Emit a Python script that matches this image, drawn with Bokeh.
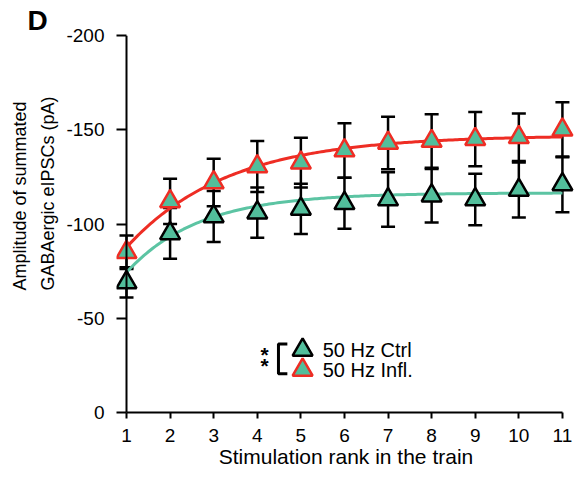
import numpy as np
from bokeh.plotting import figure
from bokeh.models import (Range1d, ColumnDataSource, Whisker, TeeHead, Label, FixedTicker,
                          Title, Span)
from bokeh.embed import file_html
from bokeh.resources import INLINE

# ---- data ----
rank = [1, 2, 3, 4, 5, 6, 7, 8, 9, 10, 11]
ctrl_mean = [-69, -95, -104, -106, -108, -111, -113, -115, -113, -118, -121]
ctrl_sem = [8, 13.5, 13.5, 13.3, 13.3, 13.5, 14.4, 14.2, 13.7, 14.6, 14.8]
infl_mean = [-85, -112, -122, -130.5, -132.5, -139, -143, -144, -145, -146, -150]
infl_sem = [8.9, 12, 12.6, 13.5, 13.2, 14.4, 13.9, 14.2, 14.4, 12.6, 14.6]
# mono-exponential fit parameters (value at rank 1, plateau, rate)
ctrl_fit = dict(y0=-74.3, plateau=-116.5, k=0.6)
infl_fit = dict(y0=-87.6, plateau=-147.0, k=0.43)
y_ticks = [0, -50, -100, -150, -200]
y_tick_labels = ["0", "-50", "-100", "-150", "-200"]
x_ticks = rank
legend_labels = ["50 Hz Ctrl", "50 Hz Infl."]

FONT = "Liberation Sans"
TEAL = "#52BE9B"
TEAL_LINE = "#5CC4A3"
RED = "#EE2D24"

W, H = 580, 478
p = figure(width=W, height=H, output_backend="svg", toolbar_location=None,
           x_range=Range1d(0.7706, 11.3), y_range=Range1d(0, -200),
           min_border_left=116, min_border_right=5, min_border_top=35, min_border_bottom=66)
p.outline_line_color = None
p.xgrid.visible = False
p.ygrid.visible = False
p.background_fill_color = "white"

for ax in (p.xaxis[0], p.yaxis[0]):
    ax.axis_line_width = 2
    ax.major_tick_line_width = 2
    ax.minor_tick_line_color = None
    ax.major_label_text_font = FONT
    ax.major_label_text_font_size = "19px"
    ax.major_label_text_color = "black"
    ax.axis_line_color = "black"
    ax.major_tick_line_color = "black"

p.xaxis.ticker = FixedTicker(ticks=x_ticks)
p.yaxis.ticker = FixedTicker(ticks=y_ticks)
p.yaxis.major_label_overrides = {t: s for t, s in zip(y_ticks, y_tick_labels)}
p.xaxis.bounds = (x_ticks[0], x_ticks[-1])
p.xaxis.major_tick_in = 0
p.xaxis.major_tick_out = 6
p.xaxis.major_label_standoff = 10
# y axis: ticks run from the frame edge to the axis line drawn at rank 1
p.yaxis.axis_line_color = None
p.yaxis.major_tick_out = 0
p.yaxis.major_tick_in = 10
p.yaxis.major_label_standoff = 12
p.add_layout(Span(location=x_ticks[0], dimension="height", line_color="black", line_width=2))

# error bars
for mean, sem in ((ctrl_mean, ctrl_sem), (infl_mean, infl_sem)):
    m = np.array(mean, dtype=float)
    s = np.array(sem, dtype=float)
    src = ColumnDataSource(dict(x=rank, upper=m - s, lower=m + s))
    w = Whisker(base="x", upper="upper", lower="lower", source=src,
                line_width=2.5, line_color="black",
                upper_head=TeeHead(size=14, line_width=2.5, line_color="black"),
                lower_head=TeeHead(size=14, line_width=2.5, line_color="black"))
    p.add_layout(w)

# fitted curves
xs = np.linspace(rank[0], rank[-1], 200)
for fit, col in ((ctrl_fit, TEAL_LINE), (infl_fit, RED)):
    ys = fit["plateau"] + (fit["y0"] - fit["plateau"]) * np.exp(-fit["k"] * (xs - rank[0]))
    p.line(xs, ys, line_color=col, line_width=3)

# markers
p.scatter(rank, ctrl_mean, marker="triangle", size=20, fill_color=TEAL,
          line_color="black", line_width=2.5)
p.scatter(rank, infl_mean, marker="triangle", size=20, fill_color=TEAL,
          line_color=RED, line_width=2.5)

# legend (manual)
leg_x = 5.04
leg_y = [-33.2, -22.6]
p.scatter([leg_x], [leg_y[0]], marker="triangle", size=20, fill_color=TEAL,
          line_color="black", line_width=2.5)
p.scatter([leg_x], [leg_y[1]], marker="triangle", size=20, fill_color=TEAL,
          line_color=RED, line_width=2.5)
for yy, txt in zip(leg_y, legend_labels):
    p.add_layout(Label(x=5.5, y=yy, text=txt, text_font=FONT, text_font_size="20px",
                       text_baseline="middle", text_align="left", text_color="black"))
# bracket
p.line([4.69, 4.486, 4.486, 4.69], [-36.4, -36.4, -20.5, -20.5], line_color="black",
       line_width=3)
for yy in (-37.1, -31.1):
    p.add_layout(Label(x=4.17, y=yy, text="*", text_font=FONT, text_font_size="21px",
                       text_font_style="bold", text_baseline="top", text_align="center",
                       text_color="black"))

# panel "D"
p.title.text = "D"
p.title.align = "left"
p.title.offset = -89
p.title.text_font = FONT
p.title.text_font_size = "28px"
p.title.text_font_style = "bold"
p.title.text_color = "black"
p.title.standoff = 0

# axis titles
p.add_layout(Title(text="Stimulation rank in the train", align="center", offset=12,
                   text_font=FONT, text_font_size="21px", text_font_style="normal",
                   text_color="black", vertical_align="top", standoff=0), "below")
p.add_layout(Title(text="GABAergic eIPSCs (pA)", align="left", offset=122,
                   text_font=FONT, text_font_size="18px", text_font_style="normal",
                   text_color="black", standoff=12), "left")
p.add_layout(Title(text="Amplitude of summated", align="left", offset=122,
                   text_font=FONT, text_font_size="18px", text_font_style="normal",
                   text_color="black", standoff=0), "left")

open("out.html", "w").write(file_html(p, INLINE))
